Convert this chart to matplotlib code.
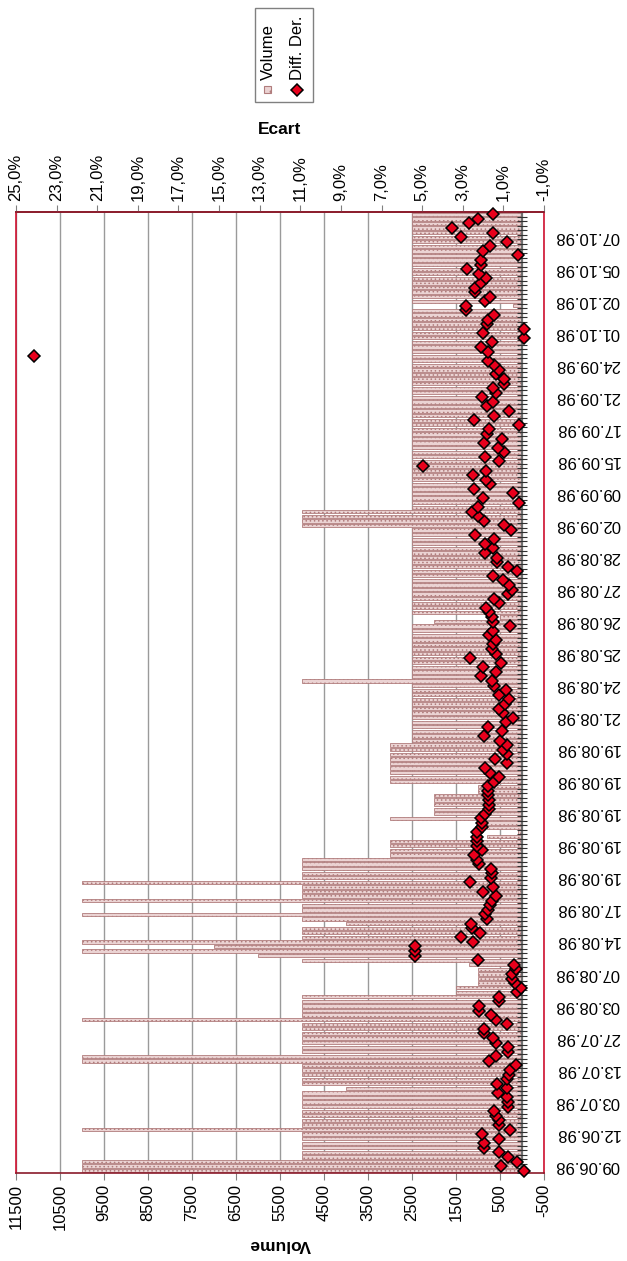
import numpy as np
import matplotlib
matplotlib.use("Agg")
import matplotlib.pyplot as plt
from matplotlib.patches import Rectangle
from matplotlib.transforms import ScaledTranslation

plt.rcParams['font.family'] = ['Liberation Sans', 'DejaVu Sans']
plt.rcParams['hatch.linewidth'] = 0.6

# category labels, one every 7 trades, oldest first
tick_dates = ['09.06.98', '12.06.98', '03.07.98', '13.07.98', '27.07.98',
              '03.08.98', '07.08.98', '14.08.98', '17.08.98', '19.08.98',
              '19.08.98', '19.08.98', '19.08.98', '19.08.98', '21.08.98',
              '24.08.98', '25.08.98', '26.08.98', '27.08.98', '28.08.98',
              '02.09.98', '09.09.98', '15.09.98', '17.09.98', '21.09.98',
              '24.09.98', '01.10.98', '02.10.98', '05.10.98', '07.10.98']

# volume per trade, newest first (as listed in the sheet)
volume_newest = [
    2500, 2500, 2500, 2500, 2500, 2500, 2500, 2500, 2500, 2500,
    2500, 2500, 2500, 2500, 2500, 2500, 2500, 2500, 2500, 2500,
    200, 2500, 2500, 2500, 2500, 2500, 2500, 2500, 2500, 2500,
    2500, 2500, 2500, 2500, 2500, 2500, 2500, 2500, 2500, 2500,
    2500, 2500, 2500, 2500, 2500, 2500, 2500, 2500, 2500, 2500,
    2500, 2500, 2500, 2500, 2500, 2500, 2500, 2500, 2500, 2500,
    2500, 2500, 2500, 2500, 2500, 5000, 5000, 5000, 5000, 2500,
    2500, 2500, 2500, 2500, 2500, 2500, 2500, 2500, 2500, 2500,
    2500, 2500, 2500, 2500, 2500, 2500, 2500, 2500, 500, 2000,
    2500, 2500, 2500, 2500, 2500, 2500, 2500, 2500, 2500, 2500,
    2500, 2500, 5000, 2500, 2500, 2500, 2500, 2500, 2500, 2500,
    2500, 2500, 2500, 2500, 2500, 2500, 3000, 3000, 3000, 3000,
    3000, 3000, 3000, 3000, 3000, 1000, 1000, 2000, 2000, 2000,
    2000, 2000, 3000, 800, 800, 100, 800, 3000, 3000, 3000,
    3000, 5000, 5000, 5000, 5000, 5000, 10000, 5000, 5000, 5000,
    10000, 5000, 5000, 10000, 5000, 4000, 5000, 5000, 5000, 10000,
    7000, 10000, 6000, 5000, 1200, 1000, 1000, 1000, 1000, 1500,
    1500, 5000, 5000, 5000, 5000, 5000, 10000, 5000, 5000, 5000,
    5000, 5000, 5000, 5000, 10000, 10000, 5000, 5000, 5000, 5000,
    5000, 4000, 5000, 5000, 5000, 5000, 5000, 5000, 5000, 5000,
    10000, 5000, 5000, 5000, 5000, 5000, 5000, 10000, 10000, 10000,
]

# deviation from last price in %, newest first
ecart_newest = [
    1.53, 2.24, 2.70, 3.51, 1.53, 3.11, 0.84, 1.66, 1.99, 0.30,
    2.12, 2.12, 2.78, 2.19, 1.86, 2.12, 2.40, 2.40, 1.66, 1.91,
    2.85, 2.85, 1.45, 1.78, 1.83, -0.03, 1.99, -0.03, 1.58, 2.08,
    1.75, 24.1, 1.75, 1.45, 1.20, 1.37, 0.96, 0.96, 1.50, 1.34,
    2.06, 1.53, 1.83, 0.74, 1.47, 2.44, 0.22, 1.70, 1.83, 1.09,
    1.94, 1.25, 0.96,
    1.91, 1.20, 4.95, 1.86, 2.52, 1.86, 1.66, 2.45, 0.55, 1.99,
    0.22, 2.24, 2.57, 2.24, 1.94, 0.96, 0.63, 2.39, 1.47, 1.91,
    1.53, 1.91, 1.29, 1.29, 0.76, 0.35, 1.53, 1.01, 0.71, 0.60,
    0.76, 1.47, 1.20, 1.86, 1.70, 1.58, 1.53, 0.68, 1.53, 1.70,
    1.37, 1.50, 1.58, 1.37, 2.65, 1.12, 1.99, 1.34, 2.08, 1.58,
    1.47, 0.88, 1.20, 0.71, 0.92,
    1.20, 1.01, 0.55, 0.88, 1.75, 1.07, 1.94, 1.17, 0.81, 1.04,
    0.84, 1.40, 0.81, 1.89, 1.66, 1.20, 1.47, 1.75, 1.75, 1.75,
    1.70, 1.70, 1.70, 1.91, 2.08, 2.03, 2.03, 2.29, 2.29, 2.29,
    2.29, 2.06, 2.44, 2.30, 2.19, 1.62, 1.58, 1.62, 2.62, 1.53,
    1.99, 1.34, 1.58, 1.66, 1.75, 1.91, 1.80, 2.60, 2.57, 2.16,
    3.11, 2.52, 5.37, 5.37, 5.37, 2.27,
    0.48, 0.38, 0.60, 0.60, 0.43, 0.15, 0.32, 1.20, 1.20, 2.21,
    2.21, 1.62, 1.37, 0.84, 1.96, 1.96, 1.50, 1.34, 0.76, 0.76,
    1.34, 1.73, 0.38, 0.68, 0.71, 0.84, 1.29, 0.84, 1.25, 0.84,
    0.76, 0.76, 1.47, 1.37, 1.20, 1.20, 0.68, 2.06, 1.20, 1.96,
    1.96, 1.20, 0.76, 0.35, 1.12, -0.03,
]

volume = np.array(volume_newest[::-1])
ecart = np.array(ecart_newest[::-1])
n = len(volume)
pos = np.arange(n)

W, H = 627, 1261
fig = plt.figure(figsize=(W / 100, H / 100), dpi=100)
ax = fig.add_axes([16 / W, (H - 1173) / H, 528 / W, 961 / H])

# volume bars, growing to the left from 0
ax.barh(pos, volume, height=0.72, left=0, color='#ebd3d3', edgecolor='#b07c7c',
        linewidth=0.6, hatch='....', zorder=2)
ax.set_xlim(11500, -500)
ax.set_ylim(-0.5, n - 0.5)
ax.set_xticks(np.arange(-500, 11501, 1000))
ax.set_xticklabels([str(v) for v in range(-500, 11501, 1000)], rotation=90, fontsize=12)
ax.tick_params(axis='x', direction='out', length=5, color='#808080', pad=3)
ax.xaxis.grid(True, color='#9a9a9a', linewidth=1)
ax.set_axisbelow(True)

# category axis sits at volume 0
ax.axvline(0, color='#707070', linewidth=1.6, zorder=3)
ax.plot(np.zeros(n + 1), np.arange(n + 1) - 0.5, ls='none', marker='_', ms=7,
        mew=0.8, color='#303030', zorder=3)

ax.yaxis.tick_right()
ax.set_yticks(pos[::7])
ax.set_yticklabels(tick_dates, rotation=180, fontsize=12)
ax.tick_params(axis='y', length=0, pad=8)
for lbl in ax.get_yticklabels():
    lbl.set_transform(lbl.get_transform() + ScaledTranslation(0, 7 / 100, fig.dpi_scale_trans))

for side in ['left', 'right']:
    ax.spines[side].set_color('#d01030')
    ax.spines[side].set_linewidth(1.2)
for side in ['top', 'bottom']:
    ax.spines[side].set_color('#8a1a2a')
    ax.spines[side].set_linewidth(1.2)

# ecart on the top axis
ax2 = ax.twiny()
ax2.set_xlim(25, -1)
ax2.set_xticks(np.arange(-1, 26, 2))
ax2.set_xticklabels([('%.1f%%' % v).replace('.', ',') for v in range(-1, 26, 2)],
                    rotation=90, fontsize=12)
ax2.tick_params(axis='x', direction='out', length=5, color='#808080', pad=3)
for side in ['left', 'right', 'bottom']:
    ax2.spines[side].set_visible(False)
ax2.spines['top'].set_color('#8a1a2a')
ax2.spines['top'].set_linewidth(1.2)
ax2.plot(ecart, pos, ls='none', marker='D', ms=5.8, mfc='#e8001c', mec='black',
         mew=1.1, zorder=4, clip_on=False)

fig.text(280 / W, 1 - 130 / H, 'Ecart', fontsize=12.5, fontweight='bold',
         ha='center', va='center')
fig.text(280 / W, 1 - 1245 / H, 'Volume', fontsize=12.5, fontweight='bold',
         ha='center', va='center', rotation=180)

# legend, turned like the rest of the sheet
fig.patches.append(Rectangle((255 / W, 1 - 102 / H), 58 / W, 94 / H,
                             transform=fig.transFigure, facecolor='white',
                             edgecolor='#808080', linewidth=1))
fig.patches.append(Rectangle((264 / W, 1 - 93 / H), 7 / W, 7 / H,
                             transform=fig.transFigure, facecolor='#ebd3d3',
                             edgecolor='#b07c7c', hatch='..', linewidth=0.8))
fig.text(268 / W, 1 - 52 / H, 'Volume', fontsize=12, rotation=90,
         ha='center', va='center')
fig.lines.append(plt.Line2D([297 / W], [1 - 90 / H], marker='D', ms=5.8,
                            mfc='#e8001c', mec='black', mew=1.1,
                            transform=fig.transFigure))
fig.text(298 / W, 1 - 48 / H, 'Diff. Der.', fontsize=12, rotation=90,
         ha='center', va='center')

fig.savefig('out.png', dpi=100)
